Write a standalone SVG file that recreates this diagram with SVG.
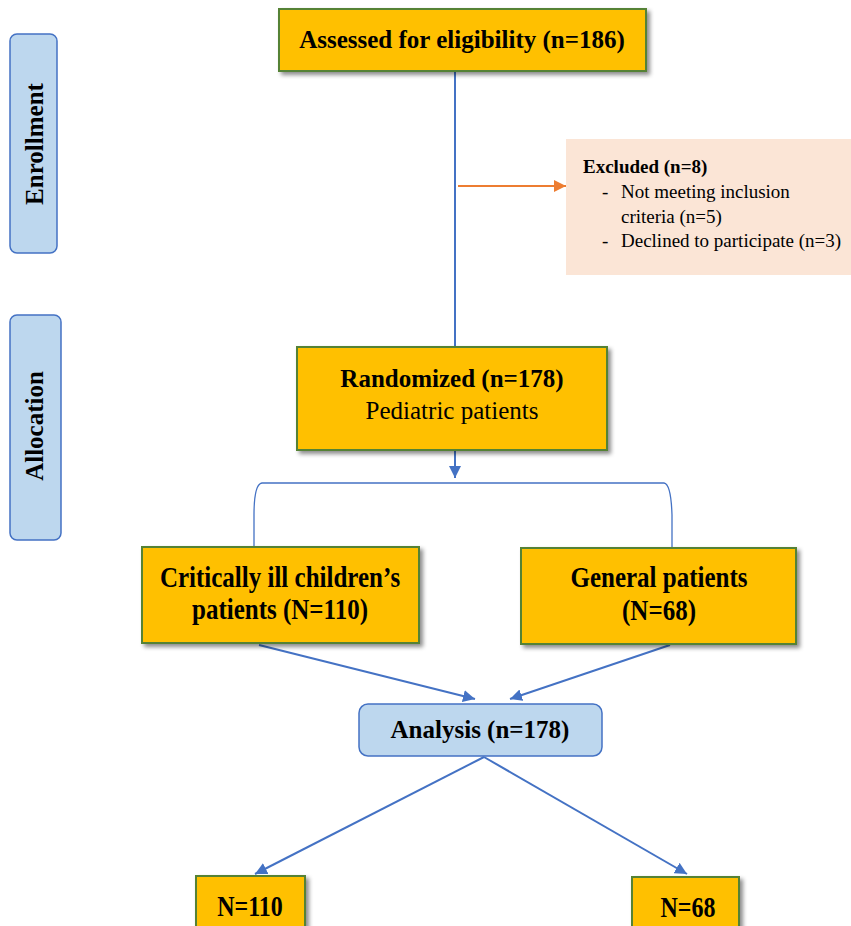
<svg xmlns="http://www.w3.org/2000/svg" width="851" height="926" viewBox="0 0 851 926">
<defs>
<filter id="sh" x="-10%" y="-10%" width="125%" height="130%">
<feDropShadow dx="3" dy="3" stdDeviation="2" flood-color="#000" flood-opacity="0.45"/>
</filter>
<marker id="ab" viewBox="0 0 12 12" refX="12" refY="6" markerWidth="12" markerHeight="12" markerUnits="userSpaceOnUse" orient="auto">
<path d="M0,0 L12,6 L0,12 z" fill="#4472C4"/>
</marker>
<marker id="ao" viewBox="0 0 12 12" refX="12" refY="6" markerWidth="12" markerHeight="12" markerUnits="userSpaceOnUse" orient="auto">
<path d="M0,0 L12,6 L0,12 z" fill="#ED7D31"/>
</marker>
</defs>
<style>
.box{fill:#FFC000;stroke:#548235;stroke-width:2;filter:url(#sh)}
.side{fill:#BDD7EE;stroke:#4472C4;stroke-width:1.5}
.t{font-family:"Liberation Serif","Times New Roman",serif;fill:#000}
.b{font-weight:bold}
.c{text-anchor:middle}
.ln{stroke:#4472C4;stroke-width:2;fill:none}
</style>
<rect width="851" height="926" fill="#fff"/>

<g id="connectors">
<line class="ln" x1="455" y1="72" x2="455" y2="347"/>
<line x1="458" y1="186" x2="566" y2="186" stroke="#ED7D31" stroke-width="2" marker-end="url(#ao)"/>
<line class="ln" x1="455" y1="451" x2="455" y2="478" marker-end="url(#ab)"/>
<path d="M254,548 L254,515 Q254,484 262,483 L664,483 Q671,484 672,515 L672,548" fill="none" stroke="#4472C4" stroke-width="1.3"/>
<line class="ln" x1="259" y1="645" x2="475" y2="699" marker-end="url(#ab)"/>
<line class="ln" x1="670" y1="645" x2="510" y2="699" marker-end="url(#ab)"/>
<line class="ln" x1="484" y1="757" x2="255" y2="874" marker-end="url(#ab)"/>
<line class="ln" x1="484" y1="757" x2="687" y2="874" marker-end="url(#ab)"/>
</g>

<g id="enrollment">
<rect class="side" x="10" y="34" width="47" height="219" rx="7"/>
<text class="t b c" font-size="25" transform="translate(43,144) rotate(-90)">Enrollment</text>
</g>
<g id="allocation">
<rect class="side" x="10" y="315" width="51" height="225" rx="7"/>
<text class="t b c" font-size="25" transform="translate(43,426) rotate(-90)">Allocation</text>
</g>

<g id="assessed">
<rect class="box" x="279" y="9" width="367" height="62"/>
<text class="t b c" x="462" y="48" font-size="25">Assessed for eligibility (n=186)</text>
</g>

<g id="excluded">
<rect x="566" y="139" width="290" height="136" fill="#FBE5D6"/>
<text class="t b" x="583" y="173" font-size="19">Excluded (n=8)</text>
<text class="t" x="602" y="198" font-size="19">-</text>
<text class="t" x="621" y="198" font-size="19">Not meeting inclusion</text>
<text class="t" x="621" y="223" font-size="19">criteria (n=5)</text>
<text class="t" x="602" y="247" font-size="19">-</text>
<text class="t" x="621" y="247" font-size="19">Declined to participate (n=3)</text>
</g>

<g id="randomized">
<rect class="box" x="297" y="347" width="310" height="103"/>
<text class="t b c" x="452" y="387" font-size="25">Randomized (n=178)</text>
<text class="t c" x="452" y="419" font-size="25">Pediatric patients</text>
</g>

<g id="critically">
<rect class="box" x="142" y="547" width="277" height="96"/>
<text class="t b c" font-size="25" transform="translate(280,587) scale(1,1.2)">Critically ill children’s</text>
<text class="t b c" font-size="25" transform="translate(280,619) scale(1,1.2)">patients (N=110)</text>
</g>

<g id="general">
<rect class="box" x="521" y="548" width="275" height="96"/>
<text class="t b c" font-size="25" transform="translate(659,587) scale(1,1.2)">General patients</text>
<text class="t b c" font-size="25" transform="translate(659,620) scale(1,1.2)">(N=68)</text>
</g>

<g id="analysis">
<rect class="side" x="359" y="704" width="243" height="52" rx="9"/>
<text class="t b c" x="480" y="738" font-size="25">Analysis (n=178)</text>
</g>

<g id="n110">
<rect class="box" x="196" y="876" width="109" height="60"/>
<text class="t b c" font-size="24" transform="translate(250,916) scale(1,1.2)">N=110</text>
</g>
<g id="n68">
<rect class="box" x="632" y="877" width="107" height="60"/>
<text class="t b c" font-size="24" transform="translate(688,917) scale(1,1.2)">N=68</text>
</g>
</svg>
